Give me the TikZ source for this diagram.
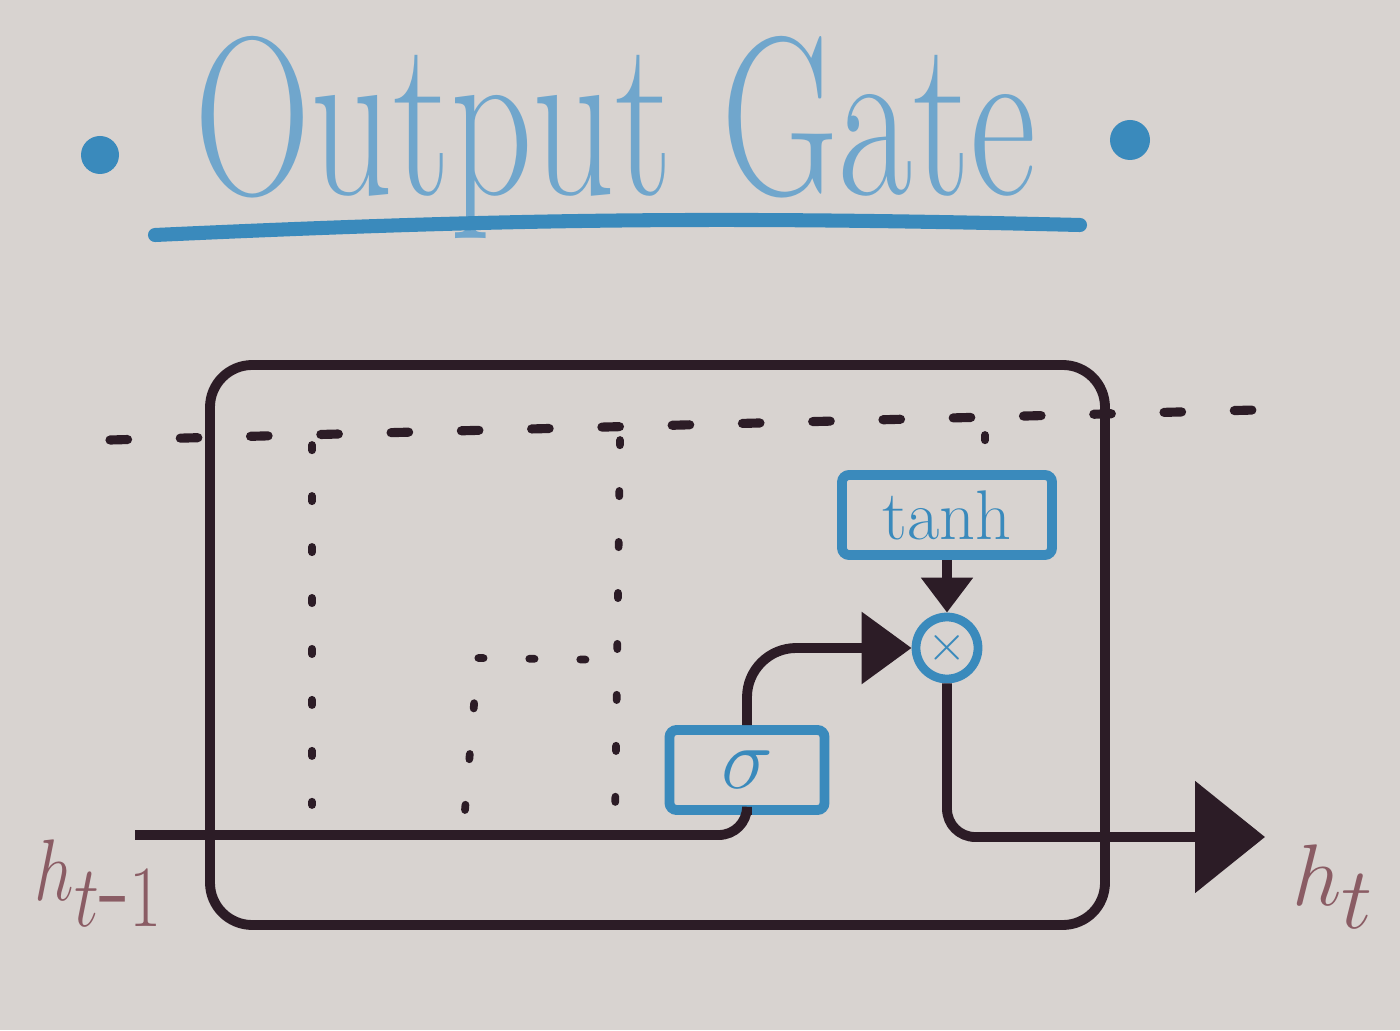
\documentclass[tikz,border=0pt]{standalone}
\usetikzlibrary{arrows.meta, positioning, calc}

\definecolor{boardbg}{RGB}{216,211,208}
\definecolor{inkblack}{RGB}{44,28,38}
\definecolor{inkblue}{RGB}{58,138,188}
\definecolor{titleblue}{RGB}{112,166,204}
\definecolor{inkmauve}{RGB}{138,92,100}

\begin{document}
\begin{tikzpicture}[scale=1.0, >=stealth,
		wire/.style={line width=2.8pt, draw=inkblack},
		ghost/.style={line width=2.2pt, draw=inkblack, dash pattern=on 1.5pt off 13pt, line cap=round},
		gatebox/.style={draw=inkblue, text=inkblue, line width=2.8pt, rounded corners=2pt, minimum height=0.8cm, inner sep=0pt},
		mulnode/.style={circle, draw=inkblue, text=inkblue, line width=2.5pt, minimum size=0.62cm, inner sep=0pt, font=\Large},
		hlabel/.style={text=inkmauve, font=\fontsize{36}{36}\selectfont}]
	% Whiteboard
	\fill[boardbg] (0,0) rectangle (14,10.3);
	\useasboundingbox (0,0) rectangle (14,10.3);
	
	% Title with underline and dots
	\node[titleblue, anchor=base, yscale=1.4, font=\fontsize{46}{46}\selectfont] (title) at (6.15,8.35) {Output Gate};
	\draw[inkblue, line width=4pt, line cap=round] (1.55,7.95) to[bend left=2] (10.8,8.05);
	\fill[inkblue] (1.0,8.75) circle (0.19);
	\fill[inkblue] (11.3,8.9) circle (0.2);
	
	% Cell outline and cell state line
	\draw[wire, rounded corners=12pt] (2.1,1.05) rectangle (11.05,6.65);
	\draw[line width=2.6pt, draw=inkblack, dash pattern=on 5pt off 15pt, line cap=round] (1.1,5.9) -- (12.55,6.2);
	
	% Gates and pointwise product
	\node[gatebox, minimum width=1.55cm, font=\fontsize{30}{30}\selectfont] (sigma) at (7.47,2.6) {$\sigma$};
	\node[gatebox, minimum width=2.1cm, font=\fontsize{20}{20}\selectfont] (tanh) at (9.47,5.15) {tanh};
	\node[mulnode] (mult) at (9.47,3.82) {$\times$};
	
	% Other gates, faded out
	\draw[ghost] (3.12,5.85) -- (3.12,2.25);
	\draw[ghost] (6.2,5.9) -- (6.15,2.05);
	\draw[ghost] (4.65,2.2) -- (4.78,3.72) -- (6.15,3.7);
	\draw[ghost] (9.85,5.95) -- (9.85,5.55);
	
	% Input and output
	\coordinate (hin) at (1.35,1.95);
	\coordinate (hout) at (12.65,1.93);
	\node[hlabel, anchor=base west, xscale=0.8] (hprev) at (0.25,1.3) {$h_{t\mbox{-}1}$};
	\node[hlabel, anchor=base west] (hnext) at (12.8,1.25) {$h_t$};
	
	% Connections
	\draw[wire, rounded corners=8pt] (hin) -| (sigma.south);
	\draw[wire, -{Triangle[length=0.5cm, width=0.7cm]}, rounded corners=14pt] (sigma.north) |- (mult.west);
	\draw[wire, -{Triangle[length=0.35cm, width=0.5cm]}] (tanh.south) -- (mult.north);
	\draw[wire, -{Triangle[length=0.7cm, width=1.1cm]}, rounded corners=8pt] (mult.south) |- (hout);
\end{tikzpicture}
\end{document}
